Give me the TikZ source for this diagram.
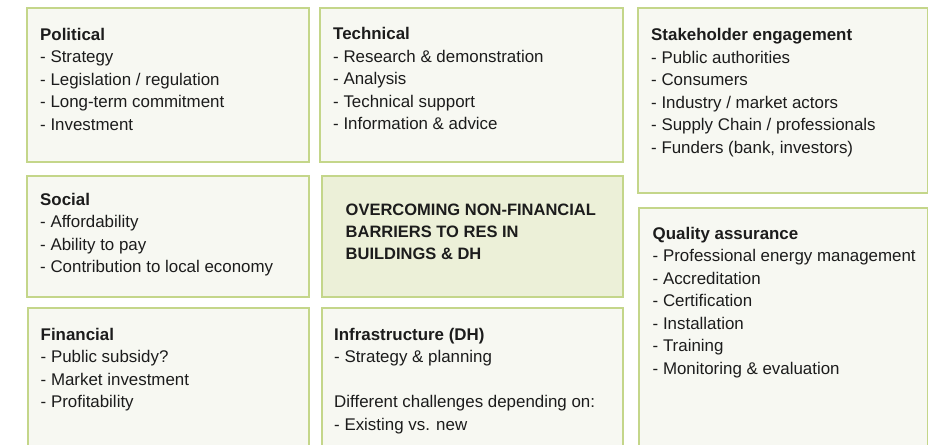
\documentclass[tikz,border=0pt]{standalone}
\usepackage{fontspec}
\setmainfont{Liberation Sans}
\definecolor{panelline}{RGB}{196,214,138}
\definecolor{panelfill}{RGB}{247,248,242}
\definecolor{corefill}{RGB}{236,240,216}
\definecolor{inktext}{RGB}{28,28,28}
\tikzset{
  panel/.style={draw=panelline, line width=1.8pt, fill=panelfill, rectangle,
    anchor=north west, inner sep=0pt},
  corepanel/.style={panel, fill=corefill},
  paneltext/.style={anchor=north west, inner sep=0pt, align=left,
    text=inktext, font=\fontsize{16.9}{22.5}\selectfont},
}
\newcommand{\hd}[1]{\strut\textbf{#1}}
\begin{document}
\begin{tikzpicture}[x=1pt,y=-1pt]
  \useasboundingbox[fill=white] (0,0) rectangle (928,444);
  \clip (0,0) rectangle (928,444);

  % panels
  \node[panel, minimum width=282pt, minimum height=154pt] (political) at (26,7) {};
  \node[panel, minimum width=303pt, minimum height=154pt] (technical) at (319,7) {};
  \node[panel, minimum width=290pt, minimum height=185pt] (stakeholder) at (637,7) {};
  \node[panel, minimum width=282pt, minimum height=121pt] (social) at (26,175) {};
  \node[corepanel, minimum width=301pt, minimum height=121pt] (core) at (321,175) {};
  \node[panel, minimum width=289pt, minimum height=260pt] (quality) at (638,207) {};
  \node[panel, minimum width=281pt, minimum height=160pt] (financial) at (27,307) {};
  \node[panel, minimum width=301pt, minimum height=160pt] (infra) at (321,307) {};

  % panel contents
  \node[paneltext] (politicaltxt) at (40,24.25) {\hd{Political}\\
    - Strategy\\ - Legislation / regulation\\ - Long-term commitment\\ - Investment};
  \node[paneltext] (technicaltxt) at (333,23.75) {\hd{Technical}\\
    - Research \& demonstration\\ - Analysis\\ - Technical support\\ - Information \& advice};
  \node[paneltext] (stakeholdertxt) at (651,24.75) {\hd{Stakeholder engagement}\\
    - Public authorities\\ - Consumers\\ - Industry / market actors\\
    - Supply Chain / professionals\\ - Funders (bank, investors)};
  \node[paneltext] (socialtxt) at (40,189.25) {\hd{Social}\\
    - Affordability\\ - Ability to pay\\ - Contribution to local economy};
  \node[paneltext, font=\fontsize{16.5}{22}\selectfont\bfseries] (coretxt) at (345.5,200.25)
    {\strut OVERCOMING NON-FINANCIAL\\ BARRIERS TO RES IN\\ BUILDINGS \& DH};
  \node[paneltext] (qualitytxt) at (652.5,223.25) {\hd{Quality assurance}\\
    - Professional energy management\\ - Accreditation\\ - Certification\\
    - Installation\\ - Training\\ - Monitoring \& evaluation};
  \node[paneltext] (financialtxt) at (40.5,324.25) {\hd{Financial}\\
    - Public subsidy?\\ - Market investment\\ - Profitability};
  \node[paneltext] (infratxt) at (334,324.25) {\hd{Infrastructure (DH)}\\
    - Strategy \& planning\\[22.5pt] Different challenges depending on:\\ - Existing vs. new};
\end{tikzpicture}
\end{document}
